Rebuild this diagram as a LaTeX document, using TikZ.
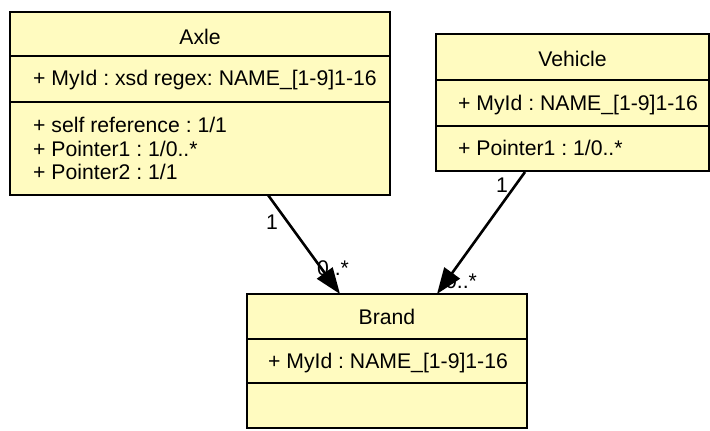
\documentclass[tikz,border=0pt]{standalone}
\usepackage{fontspec}
\setmainfont{Liberation Sans}
\usetikzlibrary{arrows.meta}
\definecolor{boxfill}{HTML}{FFFBC0}
\frenchspacing
\begin{document}
\begin{tikzpicture}[x=1pt,y=-1pt,
  umlbox/.style={draw=black,line width=2pt,fill=boxfill,rectangle,inner sep=0pt},
  txt/.style={inner sep=0pt,font=\fontsize{21.2}{25}\selectfont},
  lefttxt/.style={txt,anchor=west},
  sepline/.style={line width=2pt},
  assoc/.style={line width=2.6pt,-{Triangle[length=26pt,width=19pt]}},
  mult/.style={txt}]
\useasboundingbox (0,0) rectangle (710,431);
% Axle
\node[umlbox,minimum width=380pt,minimum height=183pt] (axle) at (200,103.5) {};
\draw[sepline] (10,56) coordinate (as1) -- (390,56) coordinate (as2);
\draw[sepline] (10,102) coordinate (as3) -- (390,102) coordinate (as4);
\node[txt] (axlet) at (200,37) {Axle};
\node[lefttxt] (axlea) at (33,80) {+ MyId : xsd regex: NAME\_[1-9]1-16};
\node[lefttxt] (axleb) at (33,125) {+ self reference : 1/1};
\node[lefttxt] (axlec) at (33,149) {+ Pointer1 : 1/0..*};
\node[lefttxt] (axled) at (33,172) {+ Pointer2 : 1/1};
% Vehicle
\node[umlbox,minimum width=273pt,minimum height=137pt] (veh) at (572.5,102.5) {};
\draw[sepline] (436,80) coordinate (vs1) -- (709,80) coordinate (vs2);
\draw[sepline] (436,126) coordinate (vs3) -- (709,126) coordinate (vs4);
\node[txt] (veht) at (572.5,59) {Vehicle};
\node[lefttxt] (veha) at (458,105) {+ MyId : NAME\_[1-9]1-16};
\node[lefttxt] (vehb) at (458,148) {+ Pointer1 : 1/0..*};
% Brand
\node[umlbox,minimum width=280pt,minimum height=134pt] (brand) at (387,361) {};
\draw[sepline] (247,339) coordinate (bs1) -- (527,339) coordinate (bs2);
\draw[sepline] (247,383) coordinate (bs3) -- (527,383) coordinate (bs4);
\node[txt] (brandt) at (387,317) {Brand};
\node[txt] (branda) at (388,363) {+ MyId : NAME\_[1-9]1-16};
% multiplicities
\node[mult] (m1) at (272,222) {1};
\node[mult] (m2) at (333,268) {0..*};
\node[mult] (m3) at (502,185) {1};
\node[mult] (m4) at (461,281) {0..*};
% connectors
\coordinate (e1s) at (268,195);
\coordinate (e1t) at (340,294);
\coordinate (e2s) at (525,172);
\coordinate (e2t) at (437,294);
\draw[assoc] (e1s) -- (e1t);
\draw[assoc] (e2s) -- (e2t);
\end{tikzpicture}
\end{document}
